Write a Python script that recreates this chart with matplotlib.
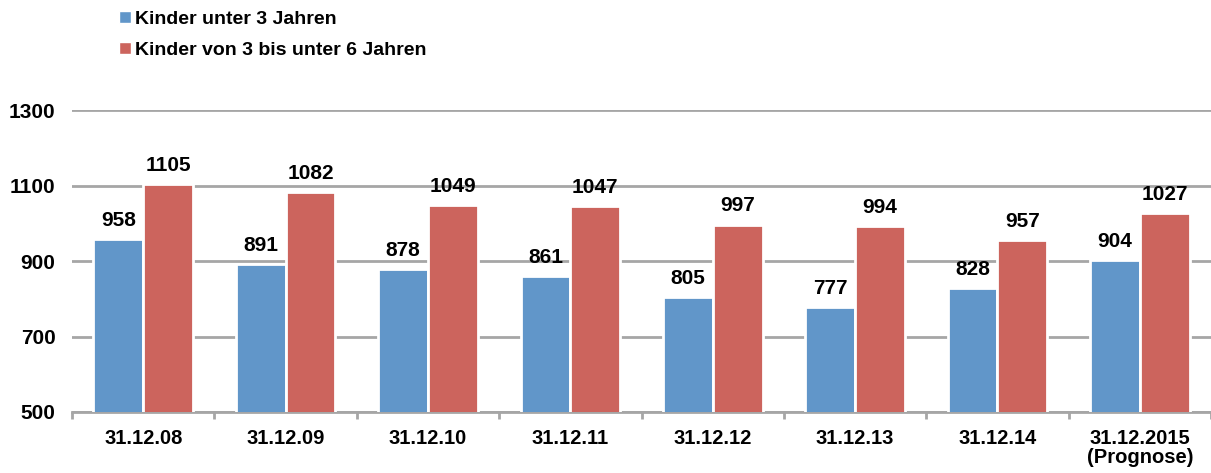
import numpy as np
import matplotlib.pyplot as plt
from matplotlib.lines import Line2D

plt.rcParams['font.family'] = ['Liberation Sans', 'DejaVu Sans']
plt.rcParams['font.weight'] = 'bold'

# data
dates = ['31.12.08', '31.12.09', '31.12.10', '31.12.11', '31.12.12',
         '31.12.13', '31.12.14', '31.12.2015\n(Prognose)']
unter3 = [958, 891, 878, 861, 805, 777, 828, 904]
drei_bis_6 = [1105, 1082, 1049, 1047, 997, 994, 957, 1027]

blue = '#6196C9'
red = '#CC645D'
grid_col = '#A6A6A6'

fig = plt.figure(figsize=(12.11, 4.73), dpi=100)
ax = fig.add_axes([0.0595, 0.129, 0.9405, 0.638])

x = np.arange(len(dates))
w = 0.35
b1 = ax.bar(x - w / 2, unter3, w, color=blue, edgecolor='white', linewidth=2, zorder=3)
b2 = ax.bar(x + w / 2, drei_bis_6, w, color=red, edgecolor='white', linewidth=2, zorder=3)

for bars, vals in [(b1, unter3), (b2, drei_bis_6)]:
    for r, v in zip(bars, vals):
        ax.text(r.get_x() + r.get_width() / 2, v + 24, str(v), ha='center', va='bottom',
                fontsize=15, fontweight='bold')

ax.set_ylim(500, 1300)
ax.set_xlim(-0.5, len(dates) - 0.5)
ax.set_yticks([500, 700, 900, 1100, 1300])
ax.yaxis.grid(True, color=grid_col, linewidth=2, zorder=0)
ax.tick_params(axis='y', length=0, labelsize=15, pad=12)

ax.set_xticks(x)
ax.set_xticklabels(dates, fontsize=14.5, fontweight='bold', linespacing=1.05)
ax.set_xticks(np.arange(len(dates) + 1) - 0.5, minor=True)
ax.tick_params(axis='x', which='major', length=0, pad=12)
ax.tick_params(axis='x', which='minor', length=5, width=2, color=grid_col)

for s in ['top', 'right', 'left']:
    ax.spines[s].set_visible(False)
ax.spines['bottom'].set_color(grid_col)
ax.spines['bottom'].set_linewidth(2)

handles = [Line2D([], [], marker='s', color='w', markerfacecolor=blue, markersize=8),
           Line2D([], [], marker='s', color='w', markerfacecolor=red, markersize=8)]
fig.legend(handles, ['Kinder unter 3 Jahren', 'Kinder von 3 bis unter 6 Jahren'],
           loc='upper left', bbox_to_anchor=(0.085, 1.016), frameon=False,
           prop={'size': 14, 'weight': 'bold'}, handlelength=0.5, handletextpad=0.25,
           labelspacing=0.72)

fig.savefig('out.png', dpi=100)
